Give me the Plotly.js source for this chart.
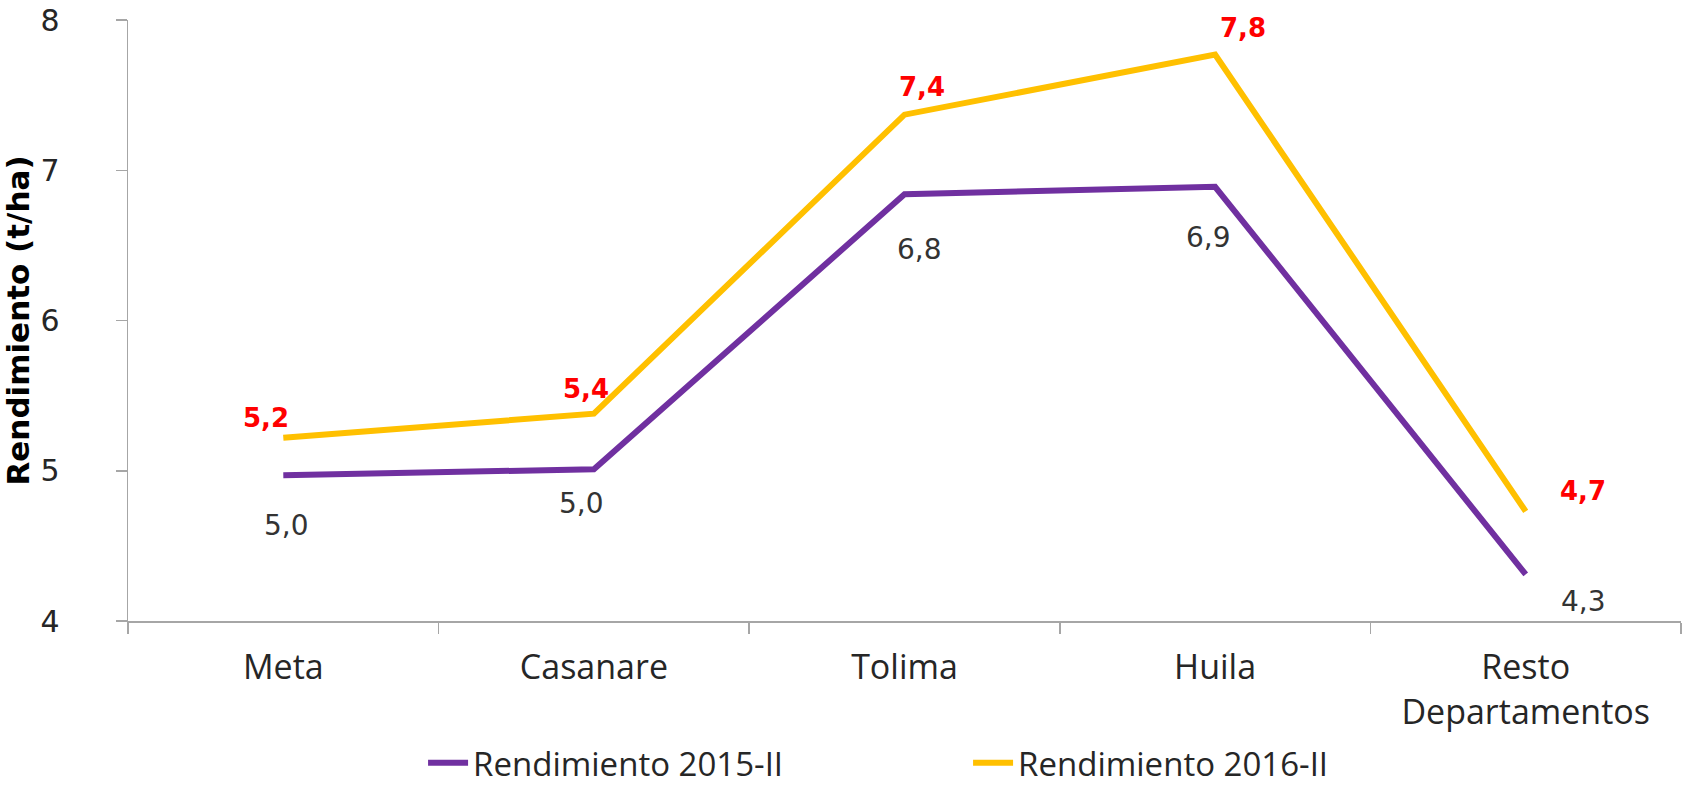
<!DOCTYPE html>
<html>
<head>
<meta charset="utf-8">
<script src="https://cdn.plot.ly/plotly-3.0.1.min.js"></script>
<style>
  html, body { margin: 0; padding: 0; background: #ffffff; }
  #chart { width: 1690px; height: 785px; }
</style>
</head>
<body>
<div id="chart"></div>
<script>
// ---- data ----
const categories = ["Meta", "Casanare", "Tolima", "Huila", "Resto<br>Departamentos"];
const rend2015 = [4.97, 5.01, 6.84, 6.89, 4.31];
const rend2016 = [5.22, 5.38, 7.37, 7.77, 4.73];
const seriesNames = ["Rendimiento 2015-II", "Rendimiento 2016-II"];
const yTicks = [4, 5, 6, 7, 8];

// ---- style ----
const purple = "#7030A0";
const gold = "#FFC000";
const labelFont = "DejaVu Sans, Verdana, sans-serif";
const textFont = "Open Sans, Noto Sans, sans-serif";

// label offsets in px (dx right, dy up) per point
const off2016 = [[-17, 20], [-8, 25], [17, 28], [28, 27], [57, 20]];
const off2015 = [[3, -50], [-12, -34], [15, -55], [-7, -51], [58, -27]];

function fmt(v) { return v.toFixed(1).replace(".", ","); }

const traces = [
  {
    type: "scatter", mode: "lines", name: seriesNames[0],
    x: categories, y: rend2015,
    line: { color: purple, width: 6 },
    hoverinfo: "skip"
  },
  {
    type: "scatter", mode: "lines", name: seriesNames[1],
    x: categories, y: rend2016,
    line: { color: gold, width: 6 },
    hoverinfo: "skip"
  }
];

const annotations = [];
categories.forEach((c, i) => {
  annotations.push({
    x: c, y: rend2016[i], xref: "x", yref: "y",
    text: "<b>" + fmt(rend2016[i]) + "</b>", showarrow: false,
    xanchor: "center", yanchor: "middle",
    xshift: off2016[i][0], yshift: off2016[i][1],
    font: { family: labelFont, size: 26, color: "#FF0000" }
  });
  annotations.push({
    x: c, y: rend2015[i], xref: "x", yref: "y",
    text: fmt(rend2015[i]), showarrow: false,
    xanchor: "center", yanchor: "middle",
    xshift: off2015[i][0], yshift: off2015[i][1],
    font: { family: labelFont, size: 28, color: "#333333" }
  });
});

const layout = {
  width: 1690, height: 785,
  paper_bgcolor: "#ffffff", plot_bgcolor: "#ffffff",
  margin: { l: 128, r: 9, t: 20, b: 164, autoexpand: false },
  showlegend: true,
  legend: {
    orientation: "h",
    x: 0.19, xanchor: "left",
    y: -0.236, yanchor: "middle",
    font: { family: textFont, size: 33, color: "#262626" },
    entrywidth: 490,
    itemwidth: 40
  },
  xaxis: {
    type: "category",
    range: [-0.5, 4.5],
    automargin: false,
    showgrid: false, zeroline: false,
    showline: true, linecolor: "#a6a6a6", linewidth: 1.5,
    ticks: "outside", tickson: "boundaries", ticklen: 11, tickcolor: "#a6a6a6", tickwidth: 1.5,
    tickfont: { family: textFont, size: 34, color: "#262626" },
    ticklabelstandoff: 16
  },
  yaxis: {
    range: [4, 8],
    automargin: false,
    tickvals: yTicks,
    ticktext: yTicks.map(String),
    showgrid: false, zeroline: false,
    showline: true, linecolor: "#a6a6a6", linewidth: 1.5,
    ticks: "outside", ticklen: 11, tickcolor: "#a6a6a6", tickwidth: 1.5,
    tickfont: { family: labelFont, size: 30, color: "#262626" },
    ticklabelstandoff: 50,
    title: {
      text: "<b>Rendimiento (t/ha)</b>",
      font: { family: "DejaVu Sans, sans-serif", size: 31, color: "#000000" },
      standoff: 2
    }
  },
  annotations: annotations
};

Plotly.newPlot("chart", traces, layout, { displayModeBar: false, staticPlot: true });
</script>
</body>
</html>
